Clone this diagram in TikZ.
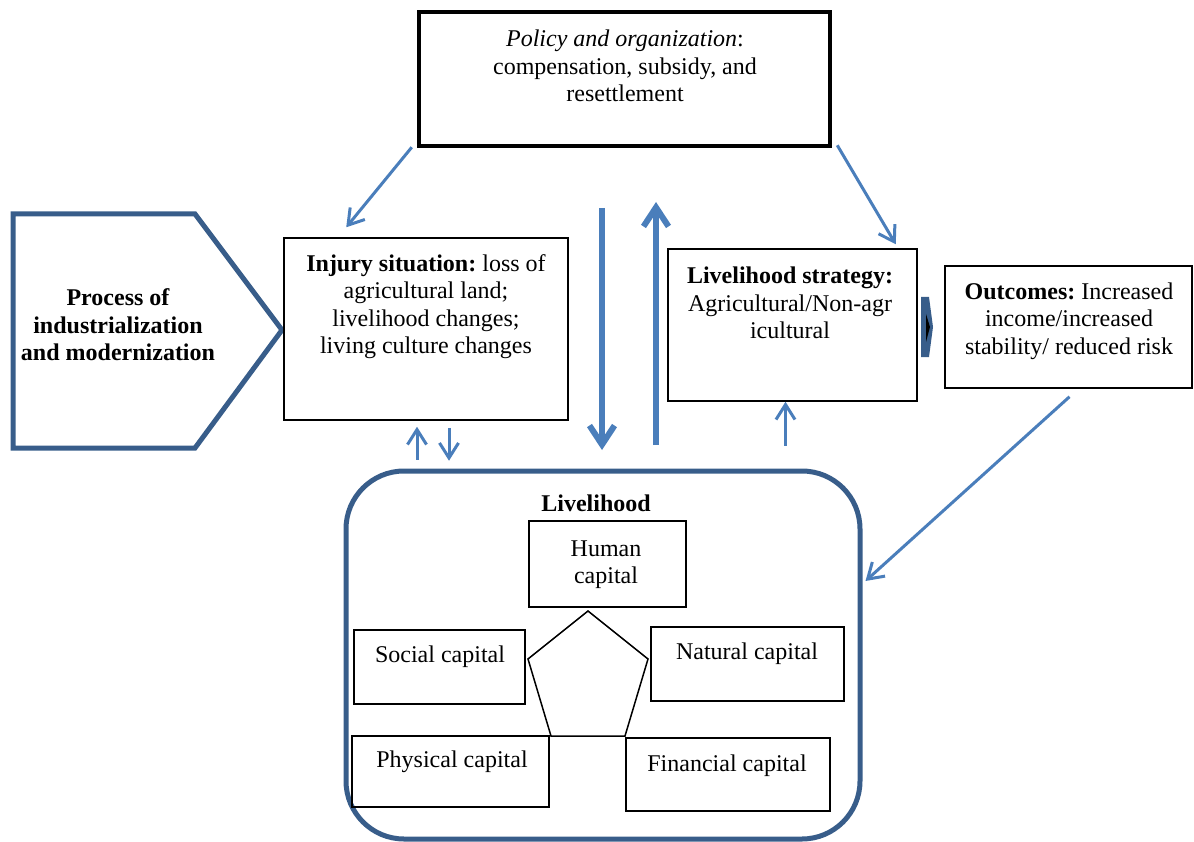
\documentclass[tikz,border=0pt]{standalone}
\usepackage{fontspec}
\setmainfont{Liberation Serif}
\usetikzlibrary{arrows.meta,calc}
\definecolor{arrowblue}{RGB}{74,126,187}
\definecolor{frameblue}{RGB}{56,93,138}
\frenchspacing

\begin{document}
\begin{tikzpicture}[x=1pt,y=-1pt,
  every node/.style={font=\fontsize{24}{27.5}\selectfont,align=center,inner sep=0pt},
  bold/.style={font=\fontsize{24}{27.5}\selectfont\bfseries},
  box/.style={draw,line width=1.5pt},
  arr/.style={draw=arrowblue,line width=3pt,-{Straight Barb[length=15pt,width=19pt]}},
  bigarr/.style={draw=arrowblue,line width=6pt,-{Straight Barb[length=19pt,width=25pt]}}]
\useasboundingbox (0,0) rectangle (1194,842);
% top and left
\node[box,line width=4.5pt,minimum width=411pt,minimum height=134pt] (policy) at (624.5,79) {};
\node (policytxt) at (625,66) {\textit{Policy and organization}:\\compensation, subsidy, and\\resettlement};
\draw[frameblue,line width=5pt] (13,214) -- (195,214) -- (282,330) -- (195,448) -- (13,448) -- cycle;
\node[bold] (process) at (118,325) {Process of\\industrialization\\and modernization};
% middle row
\node[box,minimum width=284pt,minimum height=182pt] (injury) at (426,329) {};
\node (injurytxt) at (426,306.5) {\textbf{Injury situation:} loss of\\agricultural land;\\livelihood changes;\\living culture changes};
\node[box,minimum width=249pt,minimum height=152pt] (strategy) at (792.5,325) {};
\node (strategytxt) at (790,303) {\textbf{Livelihood strategy:}\\Agricultural/Non-agr\\icultural};
\node[box,minimum width=247pt,minimum height=122pt] (outcomes) at (1068.5,327) {};
\node (outcomestxt) at (1069,321) {\textbf{Outcomes:} Increased\\income/increased\\stability/ reduced risk};
\fill[frameblue] (921,297) -- (929,297) -- (933,327) -- (929,357) -- (921,357) -- cycle;
\fill[black] (926,314) -- (930,327) -- (926,342) -- cycle;
% livelihood
\node[draw=frameblue,line width=5pt,rounded corners=58pt,minimum width=514pt,minimum height=368pt] (livelihood) at (603,655) {};
\node[bold] (livetitle) at (596,503) {Livelihood};
\node[box,minimum width=157pt,minimum height=86pt] (human) at (607.5,564) {};
\node (humantxt) at (606,564.5) {Human\\capital};
\node[box,minimum width=171pt,minimum height=74pt] (social) at (439.5,667) {};
\node (socialtxt) at (440,657) {Social capital};
\node[box,minimum width=193pt,minimum height=74pt] (natural) at (747.5,664) {};
\node (naturaltxt) at (747,654) {Natural capital};
\node[box,minimum width=197pt,minimum height=71pt] (physical) at (450.5,771.5) {};
\node (physicaltxt) at (452,762) {Physical capital};
\node[box,minimum width=204pt,minimum height=73pt] (financial) at (728,774.5) {};
\node (financialtxt) at (727,766) {Financial capital};
\draw[line width=1.5pt] (588,611) -- (648,659) -- (625,736) -- (551,736) -- (528,659) -- cycle;
% arrows
\draw[arr] ([xshift=-5pt,yshift=1pt]policy.south west) -- ([xshift=63pt,yshift=10pt]injury.north west);
\draw[arr] ([xshift=5pt,yshift=3pt]policy.south east) -- ([xshift=-22pt,yshift=4pt]strategy.north east);
\coordinate (downtop) at (602,208);
\coordinate (downtip) at (602,450);
\coordinate (upfoot) at (656,445);
\coordinate (uptip) at (656,202);
\draw[bigarr] (downtop) -- (downtip);
\draw[bigarr] (upfoot) -- (uptip);
\draw[arr] ([xshift=-9pt,yshift=-39pt]injury.south) -- ([xshift=-9pt,yshift=-6pt]injury.south);
\draw[arr] ([xshift=23pt,yshift=-7pt]injury.south) -- ([xshift=23pt,yshift=-40pt]injury.south);
\draw[arr] ([xshift=-7pt,yshift=-44pt]strategy.south) -- ([xshift=-7pt]strategy.south);
\draw[arr] ([xshift=1pt,yshift=-8pt]outcomes.south) -- ([xshift=3pt,yshift=74pt]livelihood.east);
\end{tikzpicture}
\end{document}
